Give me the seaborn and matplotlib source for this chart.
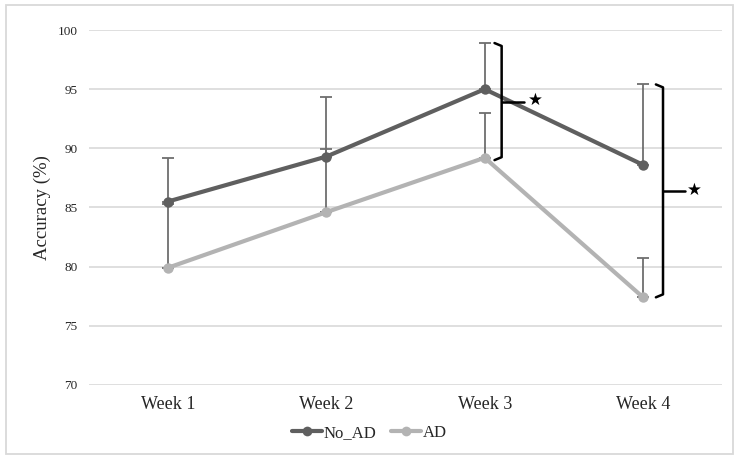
import matplotlib
matplotlib.use("Agg")
import matplotlib.pyplot as plt
import seaborn as sns
import pandas as pd
import numpy as np
from matplotlib.patches import Rectangle
from matplotlib.lines import Line2D

weeks = ["Week 1", "Week 2", "Week 3", "Week 4"]
no_ad = [85.5, 89.3, 95.0, 88.6]
no_ad_upper = [89.2, 94.3, 98.9, 95.4]
ad = [79.9, 84.6, 89.2, 77.4]
ad_upper = [85.3, 89.9, 93.0, 80.7]
yticks = [70, 75, 80, 85, 90, 95, 100]

sns.set_theme(style="white")
plt.rcParams['font.family'] = ['Liberation Serif', 'DejaVu Sans']

df = pd.DataFrame({
    "week": weeks * 2,
    "acc": no_ad + ad,
    "group": ["No_AD"] * 4 + ["AD"] * 4,
})

fig = plt.figure(figsize=(7.4, 4.62), dpi=100)
ax = fig.add_axes([0.120, 0.167, 0.856, 0.768])

colors = {"No_AD": "#5f5f5f", "AD": "#b3b3b3"}
x = np.arange(len(weeks))

# error bars (upper only)
for vals, upper in [(no_ad, no_ad_upper), (ad, ad_upper)]:
    v = np.array(vals); u = np.array(upper)
    ax.errorbar(x, v, yerr=[np.zeros_like(v), u - v], fmt="none",
                ecolor="#6e6e6e", elinewidth=1.3, capsize=4, capthick=1.3, zorder=2)

sns.lineplot(data=df, x="week", y="acc", hue="group", palette=colors,
             hue_order=["No_AD", "AD"], marker="o", markersize=7.5,
             markeredgewidth=0, linewidth=3, ax=ax, legend=False, zorder=3, sort=False)

ax.set_xlim(-0.5, 3.5)
ax.set_ylim(70, 100)
ax.set_yticks(yticks)
ax.set_yticklabels([str(t) for t in yticks], fontsize=9.5)
ax.set_xticks(x)
ax.set_xticklabels(weeks, fontsize=13)
ax.set_xlabel("")
ax.set_ylabel("Accuracy (%)", fontsize=13.5, labelpad=5)
ax.yaxis.grid(True, color="#d9d9d9", linewidth=1.2)
ax.xaxis.grid(False)
for s in ax.spines.values():
    s.set_visible(False)
ax.tick_params(axis="y", length=0, pad=8)
ax.tick_params(axis="x", length=0, pad=8)

# brackets
def bracket(xb, top, bottom, tick_end, star_x):
    h = 0.045
    mid = (top + bottom) / 2
    ax.plot([xb - h, xb, xb, xb - h], [top, top - 0.25, bottom + 0.25, bottom],
            color="black", lw=1.8, solid_joinstyle="round", zorder=4, clip_on=False)
    ax.plot([xb, tick_end], [mid, mid], color="black", lw=1.8, zorder=4, clip_on=False)
    ax.text(star_x, mid + 0.1, "★", family="DejaVu Sans", fontsize=12,
            ha="center", va="center", color="black", zorder=5)

bracket(2.107, no_ad_upper[2], ad[2] - 0.2, 2.25, 2.32)
bracket(3.126, no_ad_upper[3], ad[3], 3.265, 3.325)

# legend
handles = [Line2D([], [], color=colors[g], lw=3, marker="o", markersize=7, markeredgewidth=0)
           for g in ["No_AD", "AD"]]
fig.legend(handles, ["No_AD", "AD"], loc="center", bbox_to_anchor=(0.499, 0.063),
           ncol=2, frameon=False, fontsize=12, handlelength=1.8, handletextpad=0.1,
           columnspacing=0.9)

fig.patches.append(Rectangle((6 / 740, 8 / 462), 727 / 740, 449 / 462, transform=fig.transFigure,
                             fill=False, edgecolor="#d9d9d9", lw=1.3))

fig.savefig("out.png", dpi=100)
